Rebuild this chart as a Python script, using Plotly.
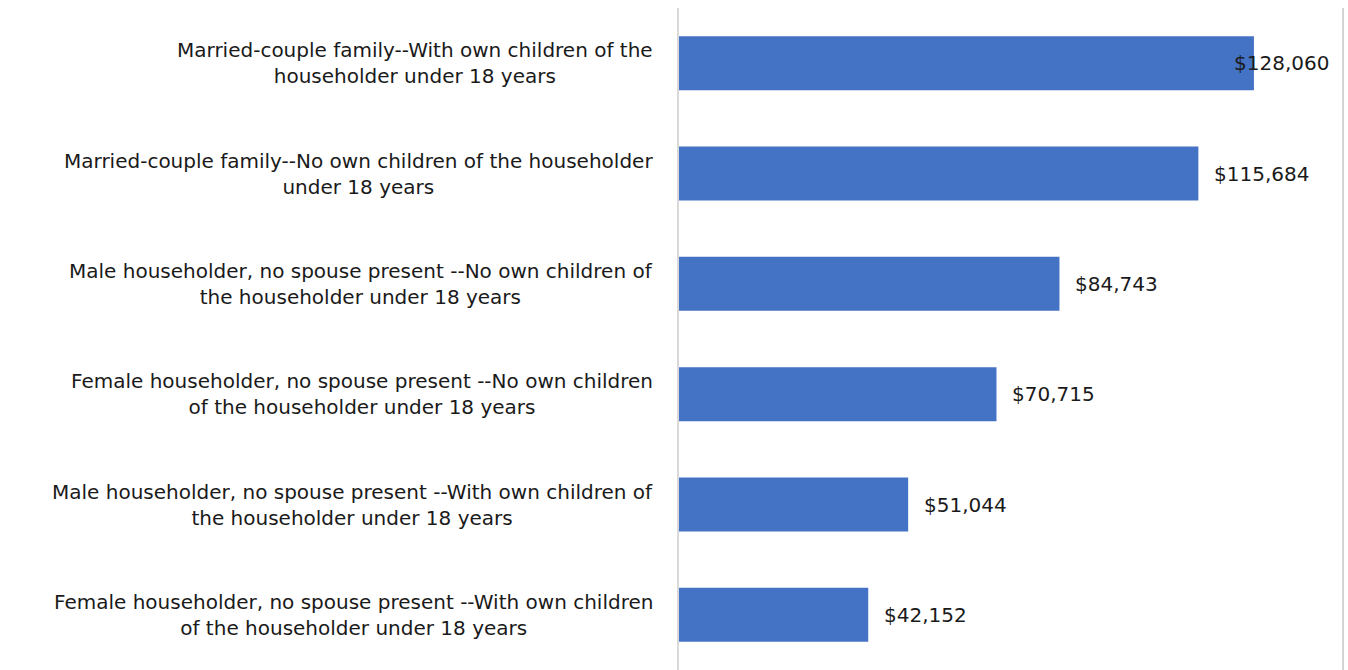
import plotly.graph_objects as go

# Median family income by family type
categories = [
    "Married-couple family--With own children of the<br>householder under 18 years",
    "Married-couple family--No own children of the householder<br>under 18 years",
    "Male householder, no spouse present --No own children of<br>the householder under 18 years",
    "Female householder, no spouse present --No own children<br>of the householder under 18 years",
    "Male householder, no spouse present --With own children of<br>the householder under 18 years",
    "Female householder, no spouse present --With own children<br>of the householder under 18 years",
]
values = [128060, 115684, 84743, 70715, 51044, 42152]
value_labels = ["$128,060", "$115,684", "$84,743", "$70,715", "$51,044", "$42,152"]

FONT = "DejaVu Sans"
FONT_SIZE = 20
TEXT_COLOR = "#1a1a1a"
BAR_COLOR = "#4472C4"
X_MAX = 147900

fig = go.Figure()
fig.add_trace(go.Bar(
    y=categories,
    x=values,
    orientation="h",
    marker=dict(color=BAR_COLOR, line=dict(width=0)),
    width=0.49,
    hoverinfo="x+y",
))

# Category labels: lines centred within the block, block right-aligned near the axis
for cat in categories:
    fig.add_annotation(
        x=0, y=cat, xref="x", yref="y",
        text=cat, showarrow=False,
        xanchor="right", yanchor="middle", align="center",
        xshift=-24,
        font=dict(family=FONT, size=FONT_SIZE, color=TEXT_COLOR),
    )

# Value labels; the largest one is pulled back so it stays inside the frame
for cat, v, lab in zip(categories, values, value_labels):
    shift = 14
    if v / X_MAX > 0.85:
        shift = -22
    fig.add_annotation(
        x=v, y=cat, xref="x", yref="y",
        text=lab, showarrow=False,
        xanchor="left", yanchor="middle",
        xshift=shift,
        font=dict(family=FONT, size=FONT_SIZE, color=TEXT_COLOR),
    )

# Outer frame edge on the right
fig.add_shape(type="line", xref="paper", yref="paper",
              x0=1, x1=1, y0=0, y1=1,
              line=dict(color="#d4d4d4", width=2))

fig.update_layout(
    width=1348, height=670,
    margin=dict(l=679, r=5, t=8, b=0),
    paper_bgcolor="white", plot_bgcolor="white",
    showlegend=False,
    xaxis=dict(range=[0, X_MAX], visible=False, fixedrange=True),
    yaxis=dict(
        autorange="reversed",
        showticklabels=False, ticks="",
        showgrid=False, zeroline=False,
        showline=True, linecolor="#d9d9d9", linewidth=1.5,
        fixedrange=True,
    ),
)

fig.write_html("out.html")
